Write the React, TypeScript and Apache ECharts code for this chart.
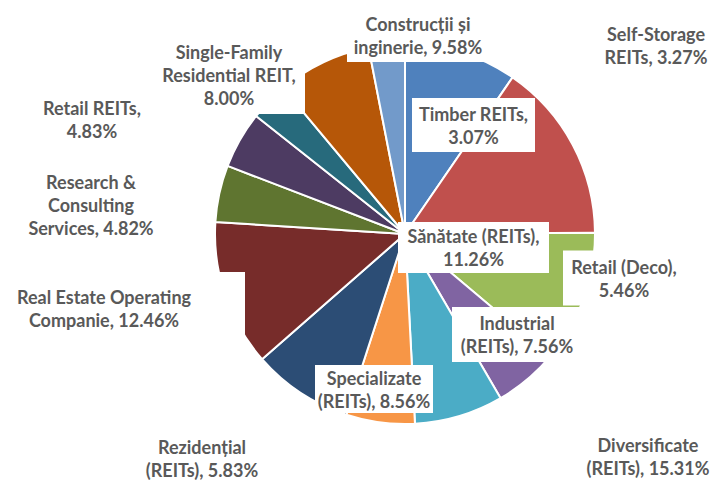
import { useEffect, useRef } from 'react';
import * as echarts from 'echarts';

// Data in drawing order (clockwise from 12 o'clock)
const categories = [
  'Construcții și\ninginerie',
  'Diversificate\n(REITs)',
  'Sănătate (REITs)',
  'Retail (Deco)',
  'Industrial\n(REITs)',
  'Rezidențial\n(REITs)',
  'Specializate\n(REITs)',
  'Real Estate Operating\nCompanie',
  'Research &\nConsulting\nServices',
  'Retail REITs',
  'Self-Storage\nREITs',
  'Single-Family\nResidential REIT',
  'Timber REITs',
];
const values = [9.58, 15.31, 11.26, 5.46, 7.56, 5.83, 8.56, 12.46, 4.82, 4.83, 3.27, 8.0, 3.07];
const valueOnNewLine = [false, false, true, true, false, false, false, false, false, true, false, true, true];

const colors = [
  '#4F81BD', '#C0504D', '#9BBB59', '#8064A2', '#4BACC6', '#F79646',
  '#2C4D75', '#772C2A', '#5F7530', '#4D3B62', '#276A7C', '#B65708', '#729ACA',
];

// Label boxes: [centerX, centerY, boxWidth, boxHeight]
const labelBoxes: number[][] = [
  [418, 35, 142, 54],
  [648, 456, 130, 50],
  [473.5, 247.5, 151, 51],
  [624, 278, 122, 55],
  [517, 334.5, 130, 55],
  [202, 458, 124, 50],
  [374, 389, 118, 48],
  [104, 308.5, 282, 73],
  [91, 205, 132, 72],
  [92, 119, 104, 50],
  [656, 45, 110, 50],
  [229, 75, 152, 78],
  [473.5, 125, 123, 54],
];

export default function App() {
  const ref = useRef<HTMLDivElement>(null);
  useEffect(() => {
    const chart = echarts.init(ref.current!, null, { renderer: 'svg' });
    chart.setOption({
      animation: false,
      backgroundColor: '#ffffff',
      color: colors,
      series: [
        {
          type: 'pie',
          center: [405, 234],
          radius: 190,
          startAngle: 90,
          clockwise: true,
          avoidLabelOverlap: false,
          itemStyle: { borderColor: '#ffffff', borderWidth: 2 },
          label: {
            show: true,
            position: 'outside',
            color: '#595959',
            fontFamily: 'Lato',
            fontWeight: 'bold',
            fontSize: 18,
            lineHeight: 23,
            backgroundColor: '#ffffff',
            overflow: 'none',
            formatter: (p: any) =>
              `${p.name},${valueOnNewLine[p.dataIndex] ? '\n' : ' '}${(p.value as number).toFixed(2)}%`,
          },
          labelLine: { show: false },
          labelLayout: (p: any) => {
            const b = labelBoxes[p.dataIndex];
            return { x: b[0], y: b[1], align: 'center', verticalAlign: 'middle', width: b[2], height: b[3] };
          },
          emphasis: { disabled: true },
          data: categories.map((name, i) => ({
            name,
            value: values[i],
            label: { width: labelBoxes[i][2], height: labelBoxes[i][3] },
          })),
        },
      ],
    });
    return () => chart.dispose();
  }, []);
  return <div ref={ref} style={{ position: 'fixed', left: 0, top: 0, width: 724, height: 480 }} />;
}
